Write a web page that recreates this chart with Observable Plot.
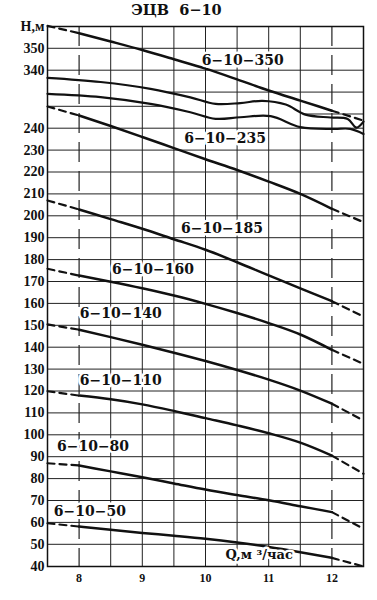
<!DOCTYPE html>
<html><head><meta charset="utf-8">
<script src="https://cdn.jsdelivr.net/npm/d3@7"></script>
<script src="https://cdn.jsdelivr.net/npm/@observablehq/plot@0.6"></script>
<style>
body{margin:0;background:#fff;}
#wrap{position:relative;width:377px;height:600px;}
#title{position:absolute;left:0;top:1px;width:353px;text-align:center;font:bold 14.5px "DejaVu Serif";color:#111;}
</style></head><body><div id="wrap"><div id="title">ЭЦВ&nbsp; 6−10</div></div>
<script>
// Flow rate Q (м³/час) sample points
const flowQ = [7.5, 8, 8.5, 9, 9.5, 10, 10.5, 11, 11.5, 12, 12.5];
// Head H (м) per pump model, read at flowQ
const h350 = [360.2, 356.9, 353.1, 349.2, 345.0, 340.7, 335.8, 330.7, 326.1, 321.5, 317.0];
const h235 = [249.9, 245.8, 241.0, 236.0, 230.9, 225.8, 220.9, 215.6, 210.0, 203.2, 197.1];
const h185 = [207.0, 202.9, 198.5, 194.1, 189.3, 184.5, 178.8, 172.8, 166.9, 161.0, 154.0];
const h160 = [175.8, 172.7, 169.9, 166.9, 163.6, 159.8, 155.6, 151.0, 145.8, 138.8, 132.4];
const h140 = [150.4, 148.0, 144.6, 141.1, 137.5, 133.7, 129.6, 125.2, 120.2, 114.2, 106.5];
const h110 = [119.9, 117.9, 116.2, 113.9, 110.9, 107.6, 104.3, 100.7, 96.4, 90.5, 82.2];
const h80  = [87.0, 86.0, 83.3, 80.6, 77.8, 75.0, 72.5, 70.1, 67.4, 64.7, 57.1];
const h50  = [59.6, 58.1, 56.6, 55.2, 53.9, 52.5, 50.8, 48.8, 46.4, 43.8, 39.9];

const curveNames = ["6−10−350", "6−10−235", "6−10−185", "6−10−160", "6−10−140", "6−10−110", "6−10−80", "6−10−50"];
const labelQ = [10.59, 10.31, 10.26, 9.17, 8.66, 8.66, 8.22, 8.17];
const labelH = [344.6, 235.2, 194.0, 175.3, 155.2, 124.8, 94.7, 65.0];

// working range (solid part of curves)
const workQ = [8, 12];

// axis break marks (upper in top segment units, lower in bottom segment units)
const breakUpperQ = [7.5, 8.34, 9.13, 9.76, 10.16, 10.55, 10.9, 11.27, 11.58, 11.98, 12.25, 12.39, 12.5];
const breakUpperH = [336.5, 334.6, 331.5, 327.6, 324.6, 325.0, 326.0, 324.3, 319.7, 318.4, 317.7, 313.8, 316.5];
const breakLowerQ = [7.5, 8.34, 9.13, 9.76, 10.16, 10.55, 11.03, 11.5, 12.03, 12.29, 12.5];
const breakLowerH = [255.7, 254.2, 251.1, 247.3, 244.3, 245.0, 245.5, 240.5, 239.7, 239.7, 237.4];

const yTicks = [40, 50, 60, 70, 80, 90, 100, 110, 120, 130, 140, 150, 160, 170, 180, 190, 200, 210, 220, 230, 240, 340, 350, 360];
const yGrid = [50, 60, 70, 80, 90, 100, 110, 120, 130, 140, 150, 160, 170, 180, 190, 200, 210, 220, 230, 240, 340, 350];
const yGridPartH = [250, 330, 320];
const yGridPartFrom = [7.5, 9.4, 11.55];
const yGridPartTo = [9.3, 12.5, 12.5];
const xTicks = [8, 9, 10, 11, 12];
const xGridSolid = [8.5, 9, 9.5, 10, 10.5, 11, 11.5];
const xGridDashed = [8, 12];
const axisTitleX = "Q,м ³/час";
const axisTitleQ = 10.85, axisTitleH = 45.3;

const heads = [h350, h235, h185, h160, h140, h110, h80, h50];
const rows = [];
heads.forEach((hs, i) => hs.forEach((h, j) => rows.push({curve: curveNames[i], Q: flowQ[j], H: h})));
const solid = rows.filter(d => d.Q >= workQ[0] && d.Q <= workQ[1]);
const dashed = rows.filter(d => d.Q <= workQ[0] || d.Q >= workQ[1]).map(d => ({...d, key: d.curve + (d.Q <= workQ[0] ? "L" : "R")}));
const labels = curveNames.map((n, i) => ({n, Q: labelQ[i], H: labelH[i]}));
const brk = [
  ...breakUpperQ.map((q, i) => ({k: "u", Q: q, H: breakUpperH[i]})),
  ...breakLowerQ.map((q, i) => ({k: "l", Q: q, H: breakLowerH[i]}))
];
const part = yGridPartH.map((h, i) => ({H: h, a: yGridPartFrom[i], b: yGridPartTo[i]}));

const chart = Plot.plot({
  width: 377, height: 600,
  marginLeft: 47, marginRight: 14, marginTop: 26, marginBottom: 34,
  style: {fontFamily: "Liberation Serif", fontWeight: "bold", fontSize: "14px", background: "white", color: "#111"},
  x: {domain: [7.5, 12.5], label: null},
  y: {type: "linear", domain: [40, 260, 310, 362], range: [565.7, 83.9, 135.4, 21.5], label: null},
  marks: [
    Plot.ruleY(yGrid, {stroke: "#222", strokeWidth: 1}),
    Plot.ruleY(part, {y: "H", x1: "a", x2: "b", stroke: "#222", strokeWidth: 1}),
    Plot.ruleX(xGridSolid, {stroke: "#222", strokeWidth: 1}),
    Plot.ruleX(xGridDashed, {stroke: "#222", strokeWidth: 1.2, strokeDasharray: "20,9"}),
    Plot.line(solid, {x: "Q", y: "H", z: "curve", stroke: "#111", strokeWidth: 2.5, curve: "monotone-x"}),
    Plot.line(dashed, {x: "Q", y: "H", z: "key", stroke: "#111", strokeWidth: 2.2, strokeDasharray: "7,5"}),
    Plot.line(brk, {x: "Q", y: "H", z: "k", stroke: "#111", strokeWidth: 2.2, curve: "catmull-rom"}),
    Plot.frame({stroke: "#111", strokeWidth: 1.5}),
    Plot.text(labels, {x: "Q", y: "H", text: "n", fontFamily: "DejaVu Serif", fontWeight: "bold", fontSize: 14, fill: "#111", stroke: "white", strokeWidth: 5, paintOrder: "stroke", lineAnchor: "middle"}),
    Plot.text([axisTitleX], {x: () => axisTitleQ, y: () => axisTitleH, text: d => d, fontFamily: "DejaVu Serif", fontWeight: "bold", fontSize: 13, fill: "#111", stroke: "white", strokeWidth: 5, paintOrder: "stroke", lineAnchor: "middle"}),
    Plot.axisY({ticks: yTicks, tickSize: 0, tickPadding: 3, tickFormat: d => d === 360 ? "Н,м" : String(d), fontFamily: "Liberation Serif", fontWeight: "bold", fontSize: 14, label: null}),
    Plot.axisX({ticks: xTicks, tickSize: 0, tickPadding: 7, tickFormat: d => String(d), fontFamily: "Liberation Serif", fontWeight: "bold", fontSize: 12, label: null})
  ]
});
document.getElementById("wrap").appendChild(chart);
</script>
</body></html>
